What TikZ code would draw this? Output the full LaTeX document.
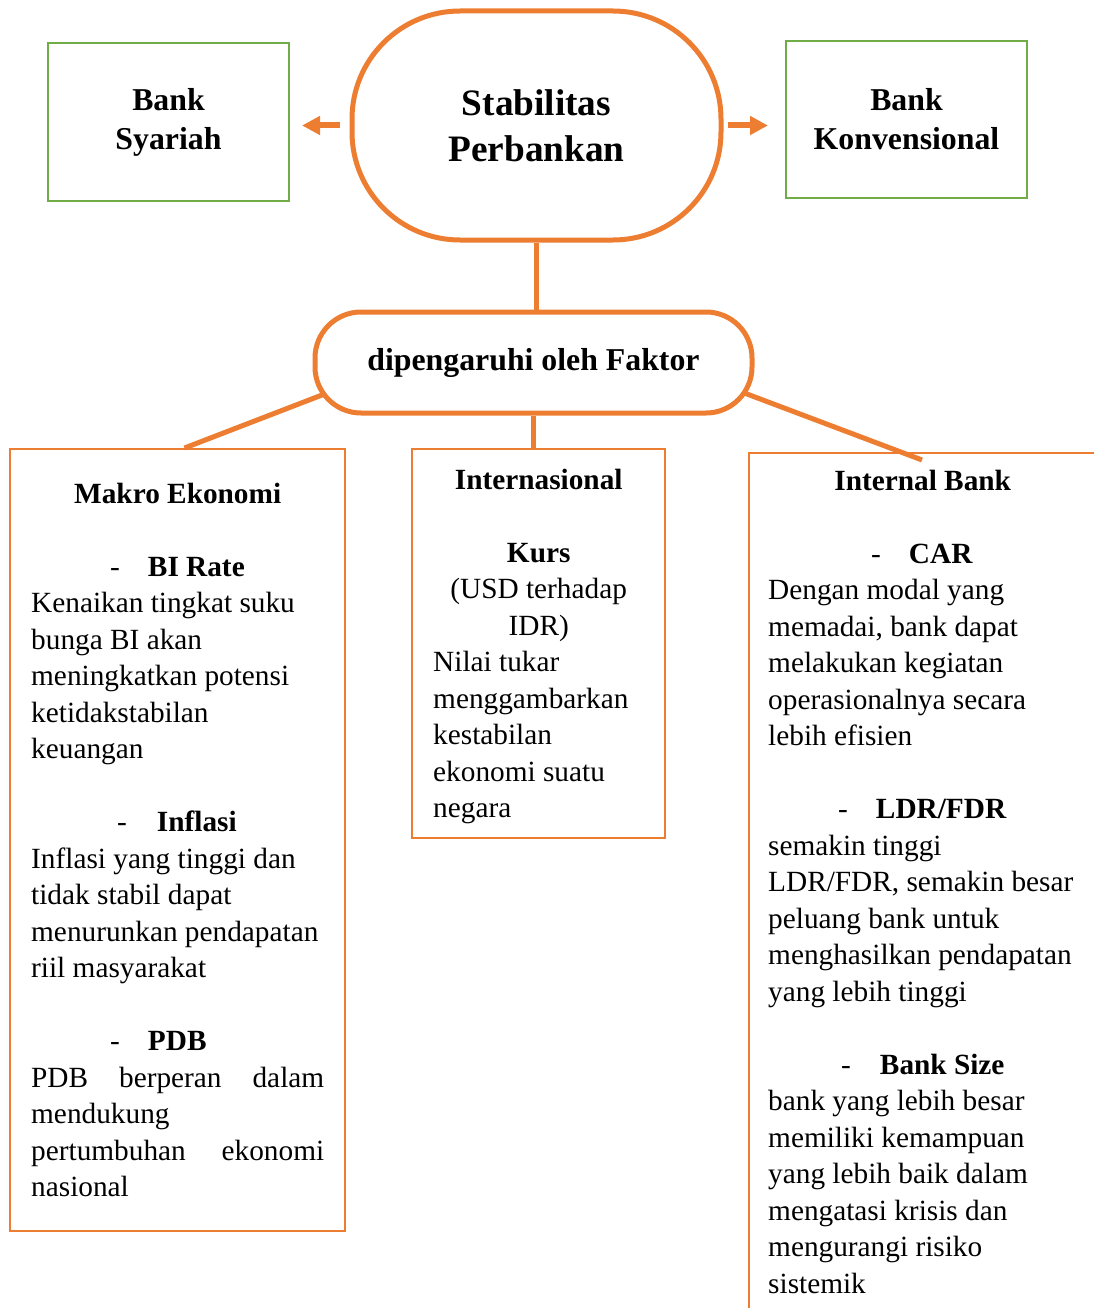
\documentclass[tikz,border=0pt]{standalone}
\usepackage{fontspec}
\setmainfont{Liberation Serif}
\usepackage{tikz}
\usetikzlibrary{calc,arrows.meta,backgrounds}
\definecolor{borange}{HTML}{ED7D31}
\definecolor{bgreen}{HTML}{70AD47}
\newcommand{\bodyfont}{\fontsize{29.3}{36.5}\selectfont}
\newcommand{\stabfont}{\fontsize{37.3}{46}\selectfont\bfseries}
\newcommand{\boxfont}{\fontsize{31.8}{39}\selectfont\bfseries}
\tikzset{
	gbox/.style={draw=bgreen, line width=2pt, minimum width=241pt, align=flush center, font=\boxfont},
	obox/.style={draw=borange, line width=2pt, inner sep=0pt},
	pill/.style={draw=borange, fill=white, line width=5pt, align=flush center},
	link/.style={draw=borange, line width=5pt},
	arr/.style={draw=borange, line width=6pt, -{Triangle[length=18pt,width=18pt]}},
	txt/.style={inner sep=0pt, align=flush left, font=\bodyfont, anchor=base west}
}

\begin{document}
\begin{tikzpicture}[x=1pt, y=-1pt]
		%%%%% START %%%%%
		\useasboundingbox (0, 0) rectangle (1093, 1308);
		
		\node[pill, minimum width=369pt, minimum height=229pt, rounded corners=108pt, font=\stabfont] (stab) at (536.5, 125.5) {Stabilitas\\Perbankan};
		\node[gbox, minimum height=158pt] (syariah) at (168.5, 122) {Bank\\Syariah};
		\node[gbox, minimum height=157pt] (konv) at (906.5, 119.5) {Bank\\Konvensional};
		
		\node[pill, minimum width=437pt, minimum height=101pt, rounded corners=46pt, font=\boxfont] (faktor) at (533.5, 362.5) {dipengaruhi oleh Faktor};
		
		\node[obox, minimum width=335pt, minimum height=782pt] (makro) at (177.5, 840) {};
		\node[obox, minimum width=253pt, minimum height=389pt] (inter) at (538.5, 643.5) {};
		\node[obox, minimum width=420pt, minimum height=900pt, anchor=north west] (internal) at (748, 452) {};
		
		\node[txt, text width=293pt] (makrotxt) at (31, 503) {%
			\makebox[\linewidth]{\textbf{Makro Ekonomi}}\\[36.5pt]
			\hspace*{79pt}-\hspace{28pt}\textbf{BI Rate}\\
			Kenaikan tingkat suku\\
			bunga BI akan\\
			meningkatkan potensi\\
			ketidakstabilan\\
			keuangan\\[36.5pt]
			\hspace*{86pt}-\hspace{30pt}\textbf{Inflasi}\\
			Inflasi yang tinggi dan\\
			tidak stabil dapat\\
			menurunkan pendapatan\\
			riil masyarakat\\[36.5pt]
			\hspace*{79pt}-\hspace{28pt}\textbf{PDB}\\
			\makebox[\linewidth]{PDB\hfill berperan\hfill dalam}\\
			mendukung\\
			\makebox[\linewidth]{pertumbuhan\hfill ekonomi}\\
			nasional};
		
		\node[txt, text width=211pt] (intertxt) at (433, 489) {%
			\makebox[\linewidth]{\textbf{Internasional}}\\[36.5pt]
			\makebox[\linewidth]{\textbf{Kurs}}\\
			\makebox[\linewidth]{(USD terhadap}\\
			\makebox[\linewidth]{IDR)}\\
			Nilai tukar\\
			menggambarkan\\
			kestabilan\\
			ekonomi suatu\\
			negara};
		
		\node[txt, text width=309pt] (internaltxt) at (768, 490) {%
			\makebox[\linewidth]{\textbf{Internal Bank}}\\[36.5pt]
			\hspace*{103pt}-\hspace{28pt}\textbf{CAR}\\
			Dengan modal yang\\
			memadai, bank dapat\\
			melakukan kegiatan\\
			operasionalnya secara\\
			lebih efisien\\[36.5pt]
			\hspace*{70pt}-\hspace{28pt}\textbf{LDR/FDR}\\
			semakin tinggi\\
			LDR/FDR, semakin besar\\
			peluang bank untuk\\
			menghasilkan pendapatan\\
			yang lebih tinggi\\[36.5pt]
			\hspace*{73pt}-\hspace{29pt}\textbf{Bank Size}\\
			bank yang lebih besar\\
			memiliki kemampuan\\
			yang lebih baik dalam\\
			mengatasi krisis dan\\
			mengurangi risiko\\
			sistemik};
		
		\coordinate (ibtop) at ($(internal.north west)+(174, 8)$);
		\coordinate (ftop) at ($(faktor.north)+(0, 4)$);
		
		\begin{pgfonlayer}{background}
			\draw[link] (stab.south) -- (stab.south |- faktor.north);
			\draw[link] ($(makro.north)+(7, 0)$) -- (ftop);
			\draw[link] (faktor.south) -- (faktor.south |- inter.north);
			\draw[link] (ftop) -- (ibtop);
		\end{pgfonlayer}
		
		\draw[arr, shorten <=9.5pt, shorten >=12pt] (stab.west) -- (stab.west -| syariah.east);
		\draw[arr, shorten <=4.5pt, shorten >=17pt] (stab.east) -- (stab.east -| konv.west);
		%%%%% END %%%%%
\end{tikzpicture}
\end{document}
